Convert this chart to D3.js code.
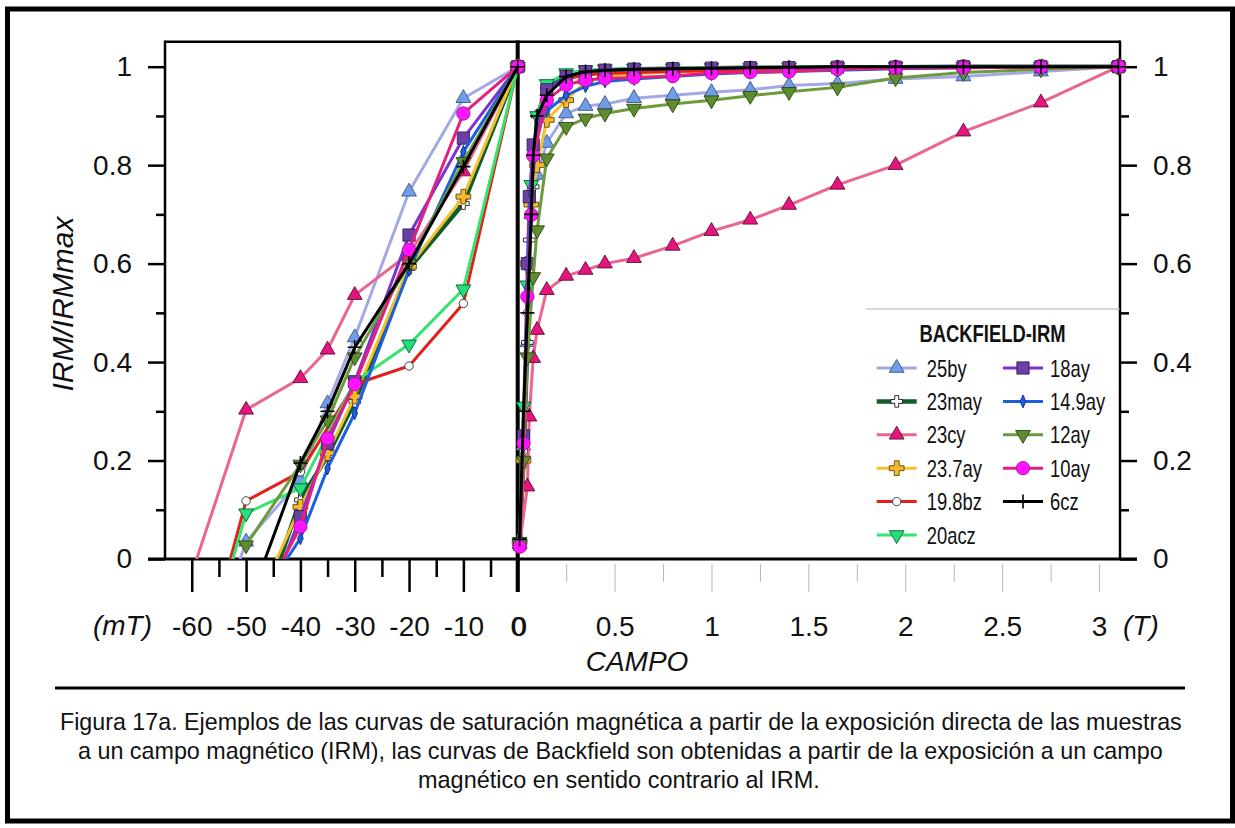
<!DOCTYPE html>
<html>
<head>
<meta charset="utf-8">
<script src="https://cdn.jsdelivr.net/npm/d3@7"></script>
<style>
  body { margin: 0; background: #fff; }
  svg { display: block; }
</style>
</head>
<body>
<svg id="chart" width="1235" height="828"></svg>
<script>
// ---- field steps ----
const negField = [-60, -50, -40, -35, -30, -20, -10, 0];           // backfield, mT
const posField = [0.01, 0.02, 0.03, 0.04, 0.05, 0.06, 0.07, 0.08, 0.1, 0.15,
                  0.25, 0.35, 0.45, 0.6, 0.8, 1.0, 1.2, 1.4, 1.65, 1.95, 2.3, 2.7, 3.1]; // IRM, T

const sampleNames = ["25by", "23may", "23cy", "23.7ay", "19.8bz", "20acz",
                     "18ay", "14.9ay", "12ay", "10ay", "6cz"];

// ---- backfield IRM/IRMmax (values at negField) ----
const back25by  = [-0.28, 0.035, 0.16, 0.316, 0.45, 0.746, 0.936, 1];
const back23may = [null, -0.2, 0.12, 0.21, 0.32, 0.59, 0.722, 1];
const back23cy  = [-0.03, 0.303, 0.367, 0.425, 0.536, 0.62, 0.787, 1];
const back237ay = [null, -0.137, 0.106, 0.215, 0.33, 0.594, 0.736, 1];
const back198bz = [-0.29, 0.118, 0.177, null, 0.355, 0.392, 0.519, 1];
const back20acz = [-0.29, 0.093, 0.144, null, 0.36, 0.436, 0.548, 1];
const back18ay  = [null, -0.2, 0.086, 0.235, 0.36, 0.658, 0.855, 1];
const back149ay = [null, -0.126, 0.042, 0.184, 0.296, 0.587, 0.827, 1];
const back12ay  = [null, 0.028, 0.192, 0.282, 0.41, 0.60, 0.807, 1];
const back10ay  = [null, -0.147, 0.066, 0.245, 0.355, 0.628, 0.905, 1];
const back6cz   = [null, -0.105, 0.195, 0.30, 0.43, 0.60, 0.797, 1];

// ---- IRM acquisition IRM/IRMmax (values at posField) ----
const irm25by  = [0.035, null, 0.23, null, 0.44, null, 0.70, null, 0.78, 0.845, 0.905, 0.92, 0.924, 0.936, 0.942, 0.948, 0.953, 0.962, 0.966, 0.975, 0.98, 0.99, 1.0];
const irm23may = [0.035, null, 0.20, null, 0.44, 0.648, null, 0.756, 0.90, 0.955, 0.982, 0.99, 0.993, 0.995, 0.996, 0.997, 0.998, 0.998, 0.999, 0.999, 1.0, 1.0, 1.0];
const irm23cy  = [0.03, null, null, null, 0.147, 0.289, null, 0.408, 0.465, 0.546, 0.575, 0.587, 0.60, 0.611, 0.636, 0.666, 0.689, 0.719, 0.76, 0.80, 0.868, 0.927, 1.0];
const irm237ay = [0.035, null, 0.20, null, 0.60, null, 0.72, null, 0.80, 0.892, 0.932, 0.97, 0.98, 0.985, 0.99, 0.992, 0.994, 0.996, 0.997, 0.998, 0.999, 1.0, 1.0];
const irm198bz = [0.03, null, 0.22, null, 0.50, null, 0.75, null, 0.90, 0.955, 0.975, 0.983, 0.986, 0.988, 0.99, 0.992, 0.994, 0.996, 0.997, 0.998, 0.999, 1.0, 1.0];
const irm20acz = [0.035, null, 0.31, null, 0.556, null, 0.76, null, 0.90, 0.965, 0.987, 0.993, 0.995, 0.996, 0.997, 0.998, 0.998, 0.999, 0.999, 1.0, 1.0, 1.0, 1.0];
const irm18ay  = [0.03, null, 0.25, null, 0.60, 0.736, null, 0.841, null, 0.953, 0.98, 0.99, 0.993, 0.995, 0.996, 0.997, 0.998, 0.998, 0.999, 0.999, 1.0, 1.0, 1.0];
const irm149ay = [0.03, null, 0.25, null, 0.55, null, 0.74, null, 0.87, 0.91, 0.942, 0.96, 0.97, 0.975, 0.98, 0.985, 0.988, 0.99, 0.993, 0.996, 0.998, 0.999, 1.0];
const irm12ay  = [0.03, null, 0.20, null, 0.41, null, null, 0.573, 0.668, 0.814, 0.878, 0.895, 0.905, 0.915, 0.924, 0.932, 0.941, 0.949, 0.958, 0.977, 0.988, 0.995, 1.0];
const irm10ay  = [0.025, null, 0.235, null, 0.533, null, 0.699, 0.819, null, 0.932, 0.963, 0.973, 0.976, 0.978, 0.981, 0.987, 0.989, 0.99, 0.995, 0.997, 0.998, 0.999, 1.0];
const irm6cz   = [0.04, null, 0.30, null, 0.50, null, 0.70, 0.82, 0.90, 0.942, 0.98, 0.99, 0.993, 0.995, 0.996, 0.997, 0.998, 0.999, 1.0, 1.0, 1.0, 1.0, 1.0];

// ---- tick labels ----
const yTicks = [0, 0.2, 0.4, 0.6, 0.8, 1];
const yMinorTicks = [0.1, 0.3, 0.5, 0.7, 0.9];
const negTicks = [-60, -50, -40, -30, -20, -10, 0];
const negMinorTicks = [-55, -45, -35, -25, -15, -5];
const posTicks = [0, 0.5, 1, 1.5, 2, 2.5, 3];
const posMinorTicks = [0.25, 0.75, 1.25, 1.75, 2.25, 2.75];

const captionLines = [
  "Figura 17a. Ejemplos de las curvas de saturación magnética a partir de la exposición directa de las muestras",
  "a un campo magnético (IRM), las curvas de Backfield son obtenidas a partir de la exposición a un campo",
  "magnético en sentido contrario al IRM."
];

// ---- series styling ----
const backData = [back25by, back23may, back23cy, back237ay, back198bz, back20acz, back18ay, back149ay, back12ay, back10ay, back6cz];
const irmData  = [irm25by, irm23may, irm23cy, irm237ay, irm198bz, irm20acz, irm18ay, irm149ay, irm12ay, irm10ay, irm6cz];
const styles = [
  { color: "#a3a9e6", width: 3,   marker: "triUp",   fill: "#6f9de8", stroke: "#3d4f86" },
  { color: "#125c2c", width: 4.5, marker: "whiteCross", fill: "#ffffff", stroke: "#1a1a1a" },
  { color: "#ea6690", width: 3,   marker: "triUp",   fill: "#e5157d", stroke: "#5a0e36" },
  { color: "#f4c22c", width: 3,   marker: "cross",   fill: "#f6b92e", stroke: "#5e4612" },
  { color: "#e3201b", width: 3,   marker: "openCircle", fill: "#ffffff", stroke: "#333333" },
  { color: "#33e46e", width: 3,   marker: "triDown", fill: "#22e07c", stroke: "#0c5c32" },
  { color: "#7b33d6", width: 3,   marker: "square",  fill: "#6a40a6", stroke: "#35205a" },
  { color: "#1d5fe3", width: 3,   marker: "diamond", fill: "#1d5fe3", stroke: "#0e2f80" },
  { color: "#6c9b3c", width: 3,   marker: "triDown", fill: "#5f8c2f", stroke: "#2c4516" },
  { color: "#e3217d", width: 3,   marker: "circle",  fill: "#ff14ff", stroke: "#9a1a9a" },
  { color: "#000000", width: 3,   marker: "plus",    fill: "none",    stroke: "#000000" }
];
const series = sampleNames.map((name, i) => ({
  name,
  back: negField.map((x, j) => ({ x, v: backData[i][j] })).filter(d => d.v !== null),
  irm:  posField.map((x, j) => ({ x, v: irmData[i][j] })).filter(d => d.v !== null),
  ...styles[i]
}));

// ---- layout ----
const svg = d3.select("#chart");
const plotLeft = 165, plotRight = 1120, plotTop = 41.7, plotBottom = 559;
const y = d3.scaleLinear().domain([0, 1]).range([plotBottom, 66.7]);
const xMT = d3.scaleLinear().domain([-65, 0]).range([164.6, 517.7]);
const xT = d3.scaleLinear().domain([0, 3.108]).range([517.7, 1120]);
const plainNum = d => String(d);   // hyphen-minus, as on the printed axis

const FONT = "'Liberation Sans', Arial, Helvetica, sans-serif";
const NARROW = "'Liberation Sans Narrow', 'Arial Narrow', sans-serif";

// detect whether a condensed face is installed; otherwise squeeze the regular one
function hasNarrow() {
  const a = svg.append("text").attr("font-family", NARROW).attr("font-size", 40).text("BACKFIELD-IRM 25by");
  const b = svg.append("text").attr("font-family", FONT).attr("font-size", 40).text("BACKFIELD-IRM 25by");
  const wa = a.node().getComputedTextLength(), wb = b.node().getComputedTextLength();
  a.remove(); b.remove();
  return wa < wb * 0.93;
}
const narrowOK = hasNarrow();
function narrowText(parent, x, yy, str, size, weight, anchor) {
  const t = parent.append("text")
    .attr("font-size", size)
    .attr("font-weight", weight || "normal")
    .attr("text-anchor", anchor || "start")
    .attr("fill", "#111")
    .text(str);
  if (narrowOK) {
    t.attr("font-family", NARROW).attr("x", x).attr("y", yy);
  } else {
    t.attr("font-family", FONT).attr("transform", `translate(${x},${yy}) scale(0.8,1)`);
  }
  return t;
}

// outer frame
svg.append("rect").attr("x", 7.5).attr("y", 9).attr("width", 1225).attr("height", 812)
  .attr("fill", "#fff").attr("stroke", "#000").attr("stroke-width", 5);

// ---- axes ----
function styleAxis(g, w) {
  g.select(".domain").remove();
  g.selectAll(".tick line").attr("stroke", "#000").attr("stroke-width", w);
  g.selectAll(".tick text").attr("font-family", FONT).attr("font-size", 28).attr("fill", "#111");
}
// left y
svg.append("g").attr("transform", `translate(${plotLeft},0)`)
  .call(d3.axisLeft(y).tickValues(yTicks).tickFormat(plainNum).tickSize(17).tickPadding(16))
  .call(g => styleAxis(g, 2.5));
svg.append("g").attr("transform", `translate(${plotLeft},0)`)
  .call(d3.axisLeft(y).tickValues(yMinorTicks).tickFormat("").tickSize(9))
  .call(g => styleAxis(g, 2.5));
// right y
svg.append("g").attr("transform", `translate(${plotRight},0)`)
  .call(d3.axisRight(y).tickValues(yTicks).tickFormat(plainNum).tickSize(17).tickPadding(16))
  .call(g => styleAxis(g, 2.5));
svg.append("g").attr("transform", `translate(${plotRight},0)`)
  .call(d3.axisRight(y).tickValues(yMinorTicks).tickFormat("").tickSize(9))
  .call(g => styleAxis(g, 2.5));

// bottom, backfield part (mT)
svg.append("g").attr("transform", `translate(0,${plotBottom})`)
  .call(d3.axisBottom(xMT).tickValues(negTicks).tickFormat(plainNum).tickSize(33).tickPadding(24))
  .call(g => styleAxis(g, 2.5));
svg.append("g").attr("transform", `translate(0,${plotBottom})`)
  .call(d3.axisBottom(xMT).tickValues(negMinorTicks).tickFormat("").tickSize(18))
  .call(g => styleAxis(g, 2.5));

// bottom, IRM part (T): faint gray ticks
svg.append("g").attr("transform", `translate(0,${plotBottom})`)
  .call(d3.axisBottom(xT).tickValues(posTicks).tickFormat(plainNum).tickSize(33).tickPadding(24))
  .call(g => styleAxis(g, 1))
  .call(g => g.selectAll(".tick line").attr("stroke", "#b8b8b8").attr("y1", 5))
  .call(g => g.selectAll(".tick").filter(d => d === 0).select("line").remove())
  .call(g => g.selectAll(".tick").filter(d => d === 0).select("text").attr("dx", 1.2));
svg.append("g").attr("transform", `translate(0,${plotBottom})`)
  .call(d3.axisBottom(xT).tickValues(posMinorTicks).tickFormat("").tickSize(23))
  .call(g => styleAxis(g, 1))
  .call(g => g.selectAll(".tick line").attr("stroke", "#b8b8b8").attr("y1", 5));

// frame lines
const frame = svg.append("g").attr("stroke", "#000").attr("fill", "none");
frame.append("line").attr("x1", plotLeft).attr("x2", plotRight).attr("y1", plotTop).attr("y2", plotTop).attr("stroke-width", 2.5);
frame.append("line").attr("x1", plotLeft).attr("x2", plotLeft).attr("y1", plotTop - 1.2).attr("y2", plotBottom).attr("stroke-width", 2.5);
frame.append("line").attr("x1", plotRight).attr("x2", plotRight).attr("y1", plotTop - 1.2).attr("y2", plotBottom).attr("stroke-width", 2.5);
frame.append("line").attr("x1", 148).attr("x2", 1137).attr("y1", plotBottom).attr("y2", plotBottom).attr("stroke-width", 3);
frame.append("line").attr("x1", xMT(0)).attr("x2", xMT(0)).attr("y1", plotTop - 1.2).attr("y2", 592).attr("stroke-width", 4);

// axis titles
svg.append("text").attr("font-family", FONT).attr("font-size", 28).attr("font-style", "italic")
  .attr("text-anchor", "end").attr("x", 152).attr("y", plotBottom + 76).attr("fill", "#111").text("(mT)");
svg.append("text").attr("font-family", FONT).attr("font-size", 28).attr("font-style", "italic")
  .attr("text-anchor", "start").attr("x", 1123).attr("y", plotBottom + 76).attr("fill", "#111").text("(T)");
svg.append("text").attr("font-family", FONT).attr("font-size", 28).attr("font-style", "italic")
  .attr("text-anchor", "middle").attr("x", 637).attr("y", 671).attr("fill", "#111").text("CAMPO");
svg.append("text").attr("font-family", FONT).attr("font-size", 30).attr("font-style", "italic")
  .attr("text-anchor", "middle").attr("transform", "translate(73,304) rotate(-90)").attr("fill", "#111")
  .text("IRM/IRMmax");

// ---- markers ----
const markerPaths = {
  triUp: d3.symbol(d3.symbolTriangle, 95)(),
  triDown: d3.symbol(d3.symbolTriangle, 95)(),
  square: d3.symbol(d3.symbolSquare, 150)(),
  circle: d3.symbol(d3.symbolCircle, 140)(),
  openCircle: d3.symbol(d3.symbolCircle, 55)(),
  cross: d3.symbol(d3.symbolCross, 120)(),
  whiteCross: d3.symbol(d3.symbolCross, 75)(),
  diamond: "M0,-6.5L2.8,0L0,6.5L-2.8,0Z",
  plus: "M-7,0H7M0,-7V7"
};
function addMarker(parent, s, px, py) {
  const rot = s.marker === "triDown" ? " rotate(180)" : "";
  parent.append("path")
    .attr("d", markerPaths[s.marker])
    .attr("transform", `translate(${px},${py})${rot}`)
    .attr("fill", s.fill)
    .attr("stroke", s.stroke)
    .attr("stroke-width", s.marker === "plus" ? 1.6 : 0.9);
}

// ---- curves ----
svg.append("defs").append("clipPath").attr("id", "plotClip")
  .append("rect").attr("x", plotLeft).attr("y", plotTop).attr("width", plotRight - plotLeft).attr("height", plotBottom - plotTop);

const lineBack = d3.line().x(d => xMT(d.x)).y(d => y(d.v));
const lineIrm = d3.line().x(d => xT(d.x)).y(d => y(d.v));
const curves = svg.append("g");
series.forEach(s => {
  const g = curves.append("g");
  const lg = g.append("g").attr("clip-path", "url(#plotClip)").attr("fill", "none")
    .attr("stroke", s.color).attr("stroke-width", s.width).attr("stroke-linejoin", "round");
  lg.append("path").attr("d", lineBack(s.back));
  lg.append("path").attr("d", lineIrm(s.irm));
  s.back.filter(d => d.v >= 0).forEach(d => addMarker(g, s, xMT(d.x), y(d.v)));
  s.irm.filter(d => d.v >= 0).forEach(d => addMarker(g, s, xT(d.x), y(d.v)));
});

// ---- legend ----
const legend = svg.append("g");
legend.append("line").attr("x1", 866).attr("x2", plotRight).attr("y1", 309).attr("y2", 309)
  .attr("stroke", "#b0b0b0").attr("stroke-width", 1.2);
narrowText(legend, 992.5, 342, "BACKFIELD-IRM", 23, "bold", "middle");
const legendCols = [{ lx: 876.7, tx: 926.7 }, { lx: 1003, tx: 1050 }];
series.forEach((s, i) => {
  const col = legendCols[i < 6 ? 0 : 1];
  const row = i < 6 ? i : i - 6;
  const cy = 368 + row * 33.4;
  legend.append("line").attr("x1", col.lx).attr("x2", col.lx + 40).attr("y1", cy).attr("y2", cy)
    .attr("stroke", s.color).attr("stroke-width", s.width);
  addMarker(legend, s, col.lx + 20, cy);
  narrowText(legend, col.tx, cy + 8.5, s.name, 23, "normal", "start");
});

// ---- divider and caption ----
svg.append("line").attr("x1", 55).attr("x2", 1185).attr("y1", 688).attr("y2", 688)
  .attr("stroke", "#000").attr("stroke-width", 3);
// caption set in a condensed cut: each line is measured and squeezed to its column width
const capSpec = [{ x: 60, w: 1122, y: 730 }, { x: 78, w: 1085, y: 759 }, { x: 418, w: 402, y: 788 }];
captionLines.forEach((txt, i) => {
  const t = svg.append("text").attr("font-family", FONT).attr("font-size", 24).attr("fill", "#111")
    .attr("x", 0).attr("y", 0).text(txt);
  const natural = t.node().getComputedTextLength();
  t.attr("transform", `translate(${capSpec[i].x},${capSpec[i].y}) scale(${capSpec[i].w / natural},1)`);
});
</script>
</body>
</html>
